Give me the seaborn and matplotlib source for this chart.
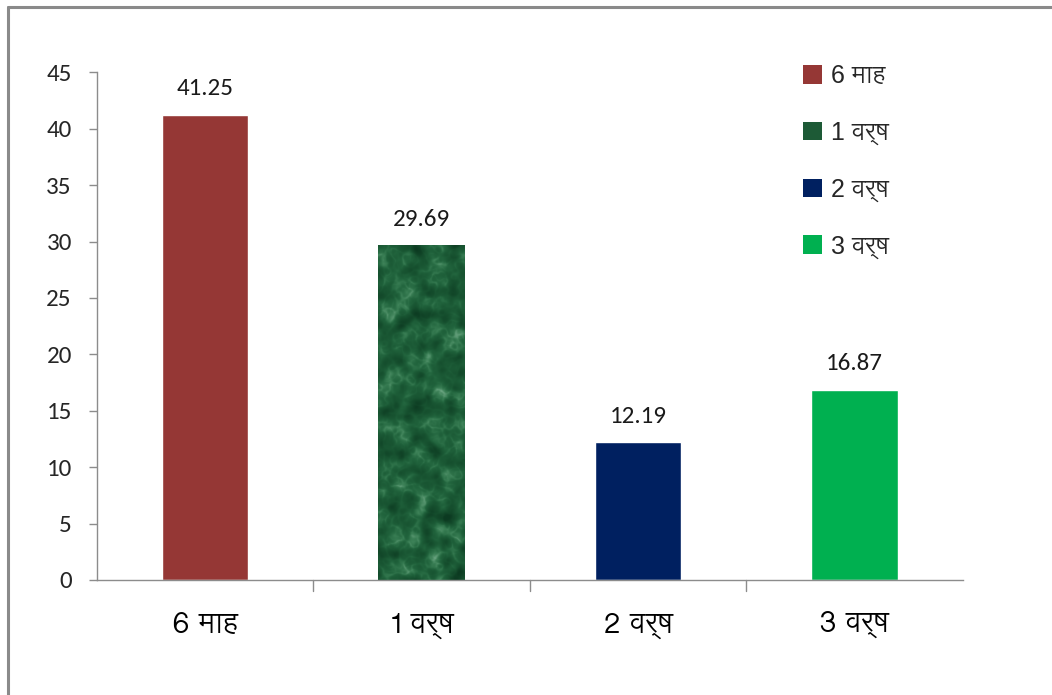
import numpy as np
import pandas as pd
import matplotlib
matplotlib.use("Agg")
import matplotlib.pyplot as plt
from matplotlib.lines import Line2D
from matplotlib.patches import Patch
from matplotlib.colors import LinearSegmentedColormap
import seaborn as sns

# Data
categories = ["6 माह", "1 वर्ष", "2 वर्ष", "3 वर्ष"]
values = [41.25, 29.69, 12.19, 16.87]
bar_colors = ["#953735", "#1d5a36", "#002060", "#00b050"]
y_ticks = [0, 5, 10, 15, 20, 25, 30, 35, 40, 45]

df = pd.DataFrame({"period": categories, "value": values})

sns.set_theme(style="white")
DEV = ["Lohit Devanagari", "Noto Sans Devanagari", "DejaVu Sans"]
LEG = ["Liberation Sans", "Lohit Devanagari", "DejaVu Sans"]
NUM = ["Carlito", "Liberation Sans", "DejaVu Sans"]
plt.rcParams["font.family"] = DEV

fig = plt.figure(figsize=(10.52, 6.95), dpi=100)
ax = fig.add_axes([0.092, 0.1655, 0.823, 0.7305])

sns.barplot(data=df, x="period", y="value", hue="period", palette=bar_colors,
            order=categories, hue_order=categories, width=0.4, dodge=False,
            legend=False, saturation=1, ax=ax)


def band_noise(rng, shape, lo, hi):
    """Gaussian noise keeping spatial frequencies between lo and hi (cycles/px)."""
    z = rng.standard_normal(shape)
    fr = np.fft.fftfreq(shape[0])[:, None]
    fc = np.fft.fftfreq(shape[1])[None, :]
    f = np.sqrt(fr ** 2 + fc ** 2)
    mask = np.exp(-((np.log(np.maximum(f, 1e-6)) - np.log(np.sqrt(lo * hi))) ** 2)
                  / (2 * (0.5 * np.log(hi / lo)) ** 2))
    out = np.real(np.fft.ifft2(np.fft.fft2(z) * mask))
    return (out - out.mean()) / out.std()


# Soft marble-like texture on the "1 वर्ष" bar, one cell per pixel
rng = np.random.default_rng(5)
rows, cols = 335, 87
cloud = band_noise(rng, (rows, cols), 1 / 90, 1 / 25)
vein_a = band_noise(rng, (rows, cols), 1 / 40, 1 / 14)
vein_b = band_noise(rng, (rows, cols), 1 / 18, 1 / 8)
ridges = 0.55 * np.exp(-(vein_a / 0.55) ** 2) + 0.22 * np.exp(-(vein_b / 0.5) ** 2)
tex = 0.36 + 0.13 * cloud + 0.38 * ridges * (0.65 + 0.35 * np.tanh(cloud))
marble = LinearSegmentedColormap.from_list(
    "marble", ["#0c3a21", "#175230", "#21643d", "#3a7f55", "#6ea784"])
bar_patch = ax.patches[1]
bx, by = bar_patch.get_x(), bar_patch.get_y()
bw, bh = bar_patch.get_width(), bar_patch.get_height()
im = ax.imshow(tex, cmap=marble, extent=[bx, bx + bw, by, by + bh],
               aspect="auto", origin="lower", zorder=bar_patch.get_zorder() + 0.1,
               vmin=0.0, vmax=1.0, interpolation="bicubic")
im.set_clip_path(bar_patch)

ax.set_xlim(-0.5, len(categories) - 0.5)
ax.set_ylim(0, 45)
ax.set_yticks(y_ticks)
ax.set_yticklabels([str(t) for t in y_ticks])
for lbl in ax.get_yticklabels():
    lbl.set_fontfamily(NUM)
    lbl.set_fontsize(18)
    lbl.set_color("#262626")
ax.set_xticks(range(len(categories)))
ax.set_xticklabels(categories)
for lbl in ax.get_xticklabels():
    lbl.set_fontfamily(DEV)
    lbl.set_fontsize(21)
    lbl.set_color("#000000")
ax.tick_params(axis="x", length=0, pad=22)
ax.tick_params(axis="y", length=6, width=1, color="#8c8c8c", pad=12, left=True)

# Category separators on the x axis
for b in np.arange(0.5, len(categories) - 0.5, 1.0):
    ax.plot([b, b], [0, -0.022], transform=ax.get_xaxis_transform(),
            color="#8c8c8c", lw=1, clip_on=False)

ax.set_xlabel("")
ax.set_ylabel("")
for side in ("top", "right"):
    ax.spines[side].set_visible(False)
for side in ("left", "bottom"):
    ax.spines[side].set_color("#8c8c8c")
    ax.spines[side].set_linewidth(1)

# Value labels
for p, v in zip(ax.patches, values):
    ax.annotate(f"{v:.2f}", (p.get_x() + p.get_width() / 2, v),
                xytext=(0, 11), textcoords="offset points", ha="center", va="bottom",
                fontsize=18, family=NUM, color="#1a1a1a")

handles = [Patch(facecolor=c, edgecolor="none") for c in bar_colors]
leg = fig.legend(handles, categories, loc="upper left", bbox_to_anchor=(0.742, 0.94),
                 frameon=False, handlelength=0.75, handleheight=0.75, handletextpad=0.35,
                 labelspacing=1.3, prop={"family": LEG, "size": 18})

# Outer frame (top and left edges)
fig.add_artist(Line2D([0.0075, 1.0], [0.9895, 0.9895], transform=fig.transFigure,
                      color="#8a8a8a", lw=2.2))
fig.add_artist(Line2D([0.0078, 0.0078], [0.0, 0.9895], transform=fig.transFigure,
                      color="#8a8a8a", lw=2.2))

fig.savefig("out.png", dpi=100, facecolor="white")
